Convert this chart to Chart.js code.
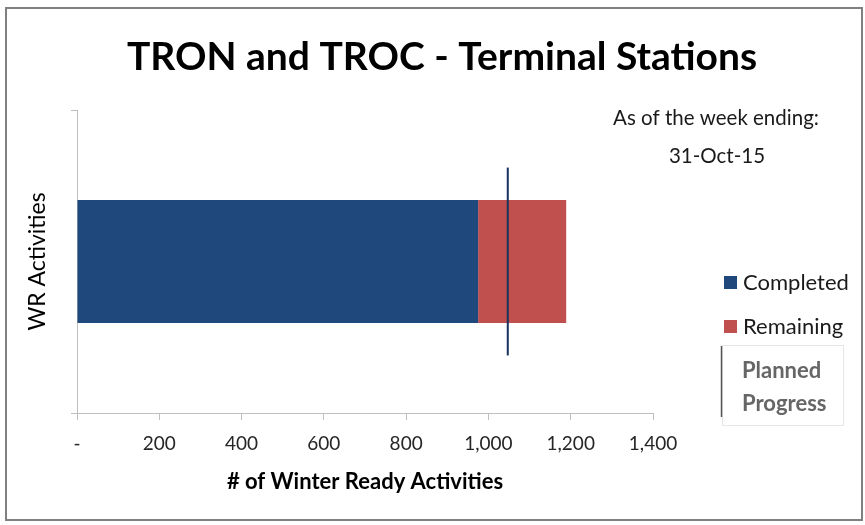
<!DOCTYPE html>
<html>
<head>
<meta charset="utf-8">
<script src="https://cdn.jsdelivr.net/npm/chart.js@4.4.1/dist/chart.umd.min.js"></script>
<style>
  html, body { margin: 0; padding: 0; background: #ffffff; }
  #wrap { position: relative; width: 865px; height: 525px; }
  canvas { display: block; }
</style>
</head>
<body>
<div id="wrap"><canvas id="c" width="865" height="525"></canvas></div>
<script>
// ---- data ----
const categories = ['Terminal Stations'];
const completedValues = [975];
const remainingValues = [214];
const plannedProgress = [1047];
const plannedMarkerExtent = [-0.31, 0.31];   // in category units around the bar centre
const xTickMin = 0, xTickMax = 1400, xTickStep = 200;
const chartTitle = 'TRON and TROC - Terminal Stations';
const asOfLines = ['As of the week ending:', '31-Oct-15'];
const legendLabels = ['Completed', 'Remaining', ['Planned', 'Progress']];

const BLUE = '#1F497D', RED = '#C0504D', LINE = '#17325E', AXIS = '#BFBFBF';
const FONT = 'Lato, "Open Sans", sans-serif';

// planned-progress marker: vertical line drawn through the chart's own scales
const plannedLine = {
  id: 'plannedLine',
  afterDatasetsDraw(chart) {
    const xs = chart.scales.x, ys = chart.scales.y;
    const ctx = chart.ctx;
    const catSize = (ys.bottom - ys.top) / categories.length;
    ctx.save();
    ctx.strokeStyle = LINE;
    ctx.lineWidth = 2;
    plannedProgress.forEach((v, i) => {
      const px = xs.getPixelForValue(v);
      const cy = ys.getPixelForValue(i);
      ctx.beginPath();
      ctx.moveTo(px, cy + plannedMarkerExtent[0] * catSize);
      ctx.lineTo(px, cy + plannedMarkerExtent[1] * catSize);
      ctx.stroke();
    });
    ctx.restore();
  }
};

const decorations = {
  id: 'decorations',
  beforeDraw(chart) {
    const ctx = chart.ctx;
    ctx.save();
    ctx.fillStyle = '#fff';
    ctx.fillRect(0, 0, chart.width, chart.height);
    ctx.restore();
  },
  afterDraw(chart) {
    const ctx = chart.ctx;
    ctx.save();
    // outer frame
    ctx.strokeStyle = '#808080';
    ctx.lineWidth = 2;
    ctx.strokeRect(6, 8, 856, 512);
    // title
    ctx.fillStyle = '#000';
    ctx.textAlign = 'center';
    ctx.textBaseline = 'middle';
    ctx.font = 'bold 39px ' + FONT;
    ctx.fillText(chartTitle, 442, 57);
    // as-of annotation
    ctx.font = '20.5px ' + FONT;
    ctx.fillStyle = '#1a1a1a';
    ctx.fillText(asOfLines[0], 716, 118);
    ctx.fillText(asOfLines[1], 717, 156);
    // legend
    ctx.textAlign = 'left';
    ctx.font = '22px ' + FONT;
    ctx.fillStyle = BLUE;
    ctx.fillRect(724, 276, 13, 13);
    ctx.fillStyle = RED;
    ctx.fillRect(724, 320, 13, 13);
    ctx.fillStyle = '#1a1a1a';
    ctx.fillText(legendLabels[0], 743, 283);
    ctx.fillText(legendLabels[1], 743, 327);
    // planned progress legend box
    ctx.strokeStyle = '#e6e6e6';
    ctx.lineWidth = 1;
    ctx.strokeRect(722.5, 345.5, 121, 80);
    ctx.strokeStyle = '#555';
    ctx.lineWidth = 1.5;
    ctx.beginPath();
    ctx.moveTo(721.5, 346);
    ctx.lineTo(721.5, 417);
    ctx.stroke();
    ctx.fillStyle = '#666';
    ctx.font = 'bold 22px ' + FONT;
    ctx.fillText(legendLabels[2][0], 742, 371);
    ctx.fillText(legendLabels[2][1], 742, 404);
    ctx.restore();
  }
};

new Chart(document.getElementById('c'), {
  type: 'bar',
  data: {
    labels: categories,
    datasets: [
      { label: 'Completed', data: completedValues, backgroundColor: BLUE, stack: 's',
        barPercentage: 0.406, categoryPercentage: 1.0 },
      { label: 'Remaining', data: remainingValues, backgroundColor: RED, stack: 's',
        barPercentage: 0.406, categoryPercentage: 1.0 }
    ]
  },
  options: {
    indexAxis: 'y',
    responsive: false,
    animation: false,
    events: [],
    layout: { padding: { top: 110, right: 212, left: 0, bottom: 0 } },
    plugins: { legend: { display: false }, tooltip: { enabled: false }, title: { display: false } },
    scales: {
      x: {
        type: 'linear', stacked: true, min: xTickMin, max: xTickMax,
        afterFit(s) { s.height = 112; },
        grid: { drawOnChartArea: false, drawTicks: true, tickLength: 7, color: AXIS },
        border: { display: true, color: AXIS, width: 1 },
        ticks: {
          stepSize: xTickStep, color: '#262626', padding: 12,
          font: { family: FONT, size: 19 },
          callback: v => v === 0 ? '-' : v.toLocaleString('en-US')
        },
        title: { display: true, text: '# of Winter Ready Activities', color: '#000',
          font: { family: FONT, size: 22, weight: 'bold' }, padding: { top: 0, bottom: 30 } }
      },
      y: {
        type: 'category', stacked: true, offset: true,
        afterFit(s) { s.width = 77; },
        grid: { drawOnChartArea: false, drawTicks: true, tickLength: 6, color: AXIS, offset: true },
        border: { display: true, color: AXIS, width: 1 },
        ticks: { display: false },
        title: { display: true, text: 'WR Activities', color: '#000',
          font: { family: FONT, size: 23 }, padding: { top: 24, bottom: 0 } }
      }
    }
  },
  plugins: [plannedLine, decorations]
});
</script>
</body>
</html>
